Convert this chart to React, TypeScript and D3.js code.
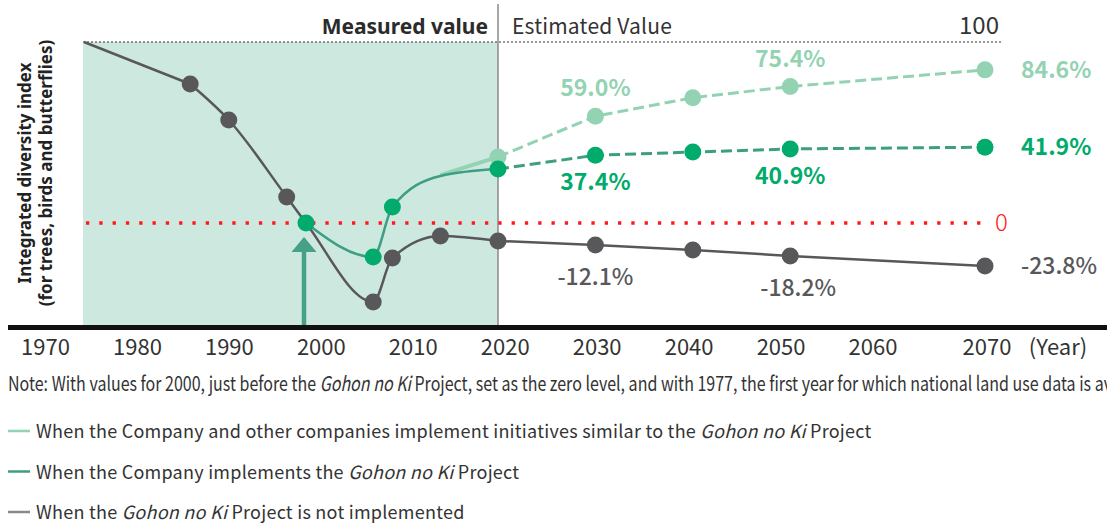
import * as d3 from "d3";

const FONT = '"Noto Sans CJK JP", "Noto Sans", sans-serif';
const FONT_W = '"Noto Sans", "DejaVu Sans", sans-serif';

// index values: 1977 = 100, 2000 = 0
const grayPast = [
  [1977, 100], [1988, 76.8], [1992, 56.9], [1998, 14.4], [2000, 0],
  [2007, -43.6], [2009, -19.3], [2014, -7.2], [2020, -9.9],
];
const grayFuture = [[2020, -9.9], [2030, -12.1], [2040, -14.9], [2050, -18.2], [2070, -23.8]];
const greenPast = [[2000, 0], [2007, -18.8], [2009, 8.8], [2014, 26], [2020, 29.8]];
const greenFuture = [[2020, 29.8], [2030, 37.4], [2040, 39.2], [2050, 40.9], [2070, 41.9]];
const lightPast = [[2014, 26.5], [2020, 36.5]];
const lightFuture = [[2020, 36.5], [2030, 59.0], [2040, 69.2], [2050, 75.4], [2070, 84.6]];

const grayDotYears = [1988, 1992, 1998, 2007, 2009, 2014, 2020, 2030, 2040, 2050, 2070];
const greenDotYears = [2000, 2007, 2009, 2020, 2030, 2040, 2050, 2070];
const lightDotYears = [2020, 2030, 2040, 2050, 2070];

const grayLabelYears = [2030, 2050, 2070];
const greenLabelYears = [2030, 2050, 2070];
const lightLabelYears = [2030, 2050, 2070];

const tickYears = [1970, 1980, 1990, 2000, 2010, 2020, 2030, 2040, 2050, 2060, 2070];

const C = {
  gray: "#58585b",
  green: "#00ab6b",
  teal: "#3d9e83",
  light: "#93d3b3",
  shade: "#cde8df",
  red: "#ff1a1a",
  text: "#333333",
};

const legendRows = [
  { color: C.light, pre: "When the Company and other companies implement initiatives similar to the ", post: " Project" },
  { color: C.teal, pre: "When the Company implements the ", post: " Project" },
  { color: "#8a8a8a", pre: "When the ", post: " Project is not implemented" },
];

export default function App() {
  const width = 1107;
  const height = 527;
  const x = d3.scaleLinear().domain([1977, 2000, 2020, 2070]).range([84, 306, 498, 985]);
  const y = d3.scaleLinear().domain([0, 100]).range([223, 42]);
  const tickX = d3.scaleLinear().domain([1970, 2060, 2070]).range([45.5, 873, 987]);
  const axisY = 327.5;

  const curved = d3.line<number[]>().x((d) => x(d[0])).y((d) => y(d[1])).curve(d3.curveMonotoneX);
  const straight = d3.line<number[]>().x((d) => x(d[0])).y((d) => y(d[1]));
  const fmt = (v: number) => v.toFixed(1) + "%";
  const find = (s: number[][], yr: number) => s.find((d) => d[0] === yr)!;
  const allGray = [...grayPast, ...grayFuture];
  const allGreen = [...greenPast, ...greenFuture];

  const label = (series: number[][], yr: number, color: string, dy: number, weight: number, key: string) => {
    const d = find(series, yr);
    const right = yr === 2070;
    return (
      <text
        key={key}
        x={right ? x(yr) + 36 : x(yr) + (color === C.gray && yr === 2050 ? 8 : 0)}
        y={right ? y(d[1]) + 8 : y(d[1]) + dy}
        textAnchor={right ? "start" : "middle"}
        fill={color}
        fontSize={23}
        fontWeight={weight}
        fontFamily={FONT}
      >
        {fmt(d[1])}
      </text>
    );
  };

  return (
    <svg width={width} height={height} style={{ position: "absolute", left: 0, top: 0, background: "#fff" }}>
      {/* measured period */}
      <rect x={x(1977) - 1} y={y(100)} width={x(2020) - x(1977) + 1} height={axisY - 2 - y(100)} fill={C.shade} />
      <line x1={x(2020)} x2={x(2020)} y1={4} y2={axisY} stroke="#8a8a8a" strokeWidth={1.5} />
      <line x1={x(1977) - 1} x2={1002} y1={y(100)} y2={y(100)} stroke="#333" strokeWidth={1} strokeDasharray="2,2" />
      <line x1={86} x2={985} y1={y(0)} y2={y(0)} stroke={C.red} strokeWidth={3.3} strokeDasharray="3.3,10" />

      <text x={488} y={34} textAnchor="end" fontSize={21} fontWeight={700} fill="#2b2b2b" fontFamily={FONT_W}>Measured value</text>
      <text x={512} y={34} fontSize={21} fill={C.text} fontFamily={FONT} letterSpacing={0.2}>Estimated Value</text>
      <text x={999} y={34} textAnchor="end" fontSize={24} fill={C.text} fontFamily={FONT}>100</text>
      <text x={995} y={231} fontSize={24} fontWeight={300} fill={C.red} fontFamily={FONT}>0</text>

      {/* arrow at 2000 */}
      <line x1={304} x2={304} y1={axisY} y2={250} stroke="#45a087" strokeWidth={4.5} />
      <path d="M291.5,252L316.5,252L304,237Z" fill="#45a087" />

      {/* lines */}
      <path d={curved(lightPast)!} fill="none" stroke={C.light} strokeWidth={4} />
      <path d={straight(lightFuture)!} fill="none" stroke={C.light} strokeWidth={3} strokeDasharray="11,5" />
      <path d={straight(grayPast.slice(0, 2))!} fill="none" stroke={C.gray} strokeWidth={2.5} />
      <path d={curved(grayPast.slice(1))!} fill="none" stroke={C.gray} strokeWidth={2.5} />
      <path d={straight(grayFuture)!} fill="none" stroke={C.gray} strokeWidth={2.5} />
      <path d={curved(greenPast)!} fill="none" stroke={C.teal} strokeWidth={2.5} />
      <path d={straight(greenFuture)!} fill="none" stroke={C.teal} strokeWidth={3} strokeDasharray="11,5" />

      {/* dots */}
      {lightDotYears.map((yr) => (
        <circle key={"l" + yr} cx={x(yr)} cy={y(find(lightFuture, yr)[1])} r={8.5} fill={C.light} />
      ))}
      {grayDotYears.map((yr) => (
        <circle key={"g" + yr} cx={x(yr)} cy={y(find(allGray, yr)[1])} r={8.5} fill={C.gray} />
      ))}
      {greenDotYears.map((yr) => (
        <circle key={"n" + yr} cx={x(yr)} cy={y(find(allGreen, yr)[1])} r={8.5} fill={C.green} />
      ))}

      {/* value labels */}
      {lightLabelYears.map((yr) => label(lightFuture, yr, C.light, -20, 700, "ll" + yr))}
      {greenLabelYears.map((yr) => label(greenFuture, yr, C.green, 35, 700, "gl" + yr))}
      {grayLabelYears.map((yr) => label(grayFuture, yr, C.gray, 40, 500, "yl" + yr))}

      {/* x axis */}
      <line x1={8} x2={width} y1={axisY} y2={axisY} stroke="#111" strokeWidth={5} />
      {tickYears.map((yr) => (
        <text key={yr} x={tickX(yr)} y={355} textAnchor="middle" fontSize={22} fill={C.text} fontFamily={FONT}>
          {yr}
        </text>
      ))}
      <text x={1058} y={355} textAnchor="middle" fontSize={22} fill={C.text} fontFamily={FONT}>(Year)</text>

      {/* y axis title */}
      <text transform="translate(31,173) rotate(-90)" textAnchor="middle" fontSize={17} fontWeight={700} fill="#222" fontFamily={FONT_W}>
        Integrated diversity index
      </text>
      <text transform="translate(52,173) rotate(-90)" textAnchor="middle" fontSize={17} fontWeight={700} fill="#222" fontFamily={FONT_W}>
        (for trees, birds and butterflies)
      </text>

      {/* note (runs past the right edge, as in the source) */}
      <text transform="translate(8,391) scale(0.8,1)" fontSize={20} fill={C.text} fontFamily={FONT}>
        Note: With values for 2000, just before the <tspan fontStyle="italic">Gohon no Ki</tspan> Project, set as the zero level, and with 1977, the first year for which national land use data is available, set as 100.
      </text>

      {/* legend */}
      {legendRows.map((r, i) => (
        <g key={i} transform={`translate(0,${431 + i * 40.5})`}>
          <line x1={8} x2={30} y1={0} y2={0} stroke={r.color} strokeWidth={2.5} />
          <text x={36} y={7} fontSize={18} fill={C.text} fontFamily={FONT} letterSpacing={0.25}>
            {r.pre}
            <tspan fontStyle="italic">Gohon no Ki</tspan>
            {r.post}
          </text>
        </g>
      ))}
    </svg>
  );
}
